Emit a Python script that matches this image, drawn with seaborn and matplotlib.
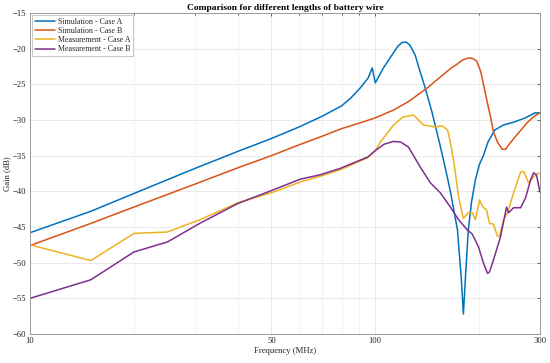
import pandas as pd
import numpy as np
import matplotlib
matplotlib.use("Agg")
import matplotlib.pyplot as plt
import seaborn as sns
from matplotlib.ticker import FixedLocator, FixedFormatter, NullFormatter

# values (frequency in MHz, gain in dB)
sim_a_f = [10, 15, 20, 30, 40, 50, 60, 70, 80, 85, 90.5, 95.4, 98, 100, 105.6, 112.8, 116.5,
           120, 123, 126, 130.5, 135, 139.5, 146, 154, 160, 165, 173, 177.6, 180, 183, 186,
           190, 195, 200, 206, 212, 222, 235, 252, 272, 290, 300]
sim_a_g = [-45.8, -42.8, -40.3, -36.8, -34.4, -32.6, -31.0, -29.5, -28.0, -26.9, -25.5, -24.1,
           -22.7, -24.8, -22.7, -20.6, -19.6, -19.1, -19.1, -19.5, -20.9, -23.3, -25.5, -28.9,
           -33.5, -37.0, -40.0, -45.4, -52.4, -57.2, -51.0, -45.4, -41.5, -38.4, -36.3, -34.9,
           -33.1, -31.4, -30.7, -30.3, -29.7, -29.0, -29.0]

sim_b_f = [10, 15, 20, 30, 40, 50, 60, 70, 80, 90.5, 100, 113, 125, 141.5, 155, 165, 171, 179,
           185, 188.5, 192, 197, 202, 206, 211, 216, 220, 226, 233, 238.5, 246, 260, 275, 290,
           300]
sim_b_g = [-47.6, -44.5, -42.2, -39.0, -36.7, -35.0, -33.5, -32.3, -31.2, -30.4, -29.7, -28.6,
           -27.4, -25.5, -23.9, -22.8, -22.3, -21.6, -21.35, -21.3, -21.4, -21.8, -23.2, -25.1,
           -27.5, -29.7, -31.7, -33.1, -34.1, -34.1, -33.2, -31.8, -30.4, -29.4, -29.0]

meas_a_f = [10, 15, 20, 25, 31, 40, 50, 60.6, 69, 79, 95, 100, 103.4, 113, 120, 129, 138,
            149.5, 156, 162, 165, 168.5, 174.4, 179.9, 186, 191, 195.1, 200.4, 205.9, 210,
            214.2, 220, 225.9, 229, 235.2, 241.6, 251.6, 263.6, 268.9, 278, 287.4, 294.8, 300]
meas_a_g = [-47.5, -49.7, -45.9, -45.7, -44.0, -41.6, -40.2, -38.7, -37.9, -37.0, -35.3, -34.3,
            -33.1, -30.7, -29.6, -29.3, -30.7, -31.0, -30.8, -31.4, -33.1, -35.6, -40.8, -43.8,
            -43.0, -43.0, -44.0, -41.2, -42.3, -42.6, -44.5, -44.6, -46.3, -46.3, -44.0, -43.0,
            -40.2, -37.3, -37.2, -38.8, -38.0, -37.5, -37.5]

meas_b_f = [10, 15, 20, 25, 31, 40, 50, 60.6, 69, 79, 95, 100, 106, 112.8, 118.6, 124.8, 135,
            144.4, 154.3, 165, 174.4, 184.7, 191, 199.1, 205.9, 211.4, 214.2, 220, 230.5, 240,
            243.2, 251.6, 263.6, 272.6, 281.7, 287.4, 293, 300]
meas_b_g = [-55.0, -52.4, -48.5, -47.1, -44.5, -41.7, -39.9, -38.3, -37.7, -36.8, -35.2, -34.3,
            -33.4, -33.0, -33.1, -33.8, -36.6, -38.8, -40.2, -42.2, -44.0, -45.4, -46.0, -47.8,
            -50.1, -51.5, -51.3, -49.6, -46.4, -42.2, -43.0, -42.3, -42.3, -40.9, -38.4, -37.4,
            -37.7, -40.1]

labels = ['Simulation - Case A', 'Simulation - Case B',
          'Measurement - Case A', 'Measurement - Case B']
colors = ['#0072BD', '#D95319', '#EDB120', '#7E2F8E']

frames = []
for lab, f, g in zip(labels, [sim_a_f, sim_b_f, meas_a_f, meas_b_f],
                     [sim_a_g, sim_b_g, meas_a_g, meas_b_g]):
    frames.append(pd.DataFrame({'freq': f, 'gain': g, 'case': lab}))
df = pd.concat(frames, ignore_index=True)

sns.set_theme(style="whitegrid")
plt.rcParams['font.family'] = ['Liberation Serif', 'DejaVu Serif']

fig = plt.figure(figsize=(5.5, 3.63), dpi=100)
ax = fig.add_axes([30 / 550, 1 - 334 / 363, 510 / 550, 321 / 363])

sns.lineplot(data=df, x='freq', y='gain', hue='case', hue_order=labels,
             palette=colors, estimator=None, sort=False, linewidth=1.1, ax=ax)

ax.set_xscale('log')
ax.set_xlim(10, 300)
ax.set_ylim(-60, -15)
ax.xaxis.set_major_locator(FixedLocator([10, 50, 100, 300]))
ax.xaxis.set_major_formatter(FixedFormatter(['10', '50', '100', '300']))
ax.xaxis.set_minor_locator(FixedLocator([20, 30, 40, 60, 70, 80, 90, 200]))
ax.xaxis.set_minor_formatter(NullFormatter())
ax.set_yticks(np.arange(-60, -14, 5))

ax.grid(True, which='major', color='#e6e6e6', linewidth=0.6)
ax.grid(True, which='minor', axis='x', color='#efefef', linewidth=0.5)
ax.set_facecolor('white')
for s in ax.spines.values():
    s.set_color('#9a9a9a')
    s.set_linewidth(0.7)

ax.tick_params(axis='both', which='both', direction='in', top=True, right=True,
               labelsize=6.2, colors='#262626', length=2.5, width=0.5, pad=2.5)
ax.tick_params(axis='both', which='minor', length=1.5)

ax.set_xlabel('Frequency (MHz)', fontsize=6.2, labelpad=1, color='#262626')
ax.set_ylabel('Gain (dB)', fontsize=6.2, labelpad=1, color='#262626')
ax.set_title('Comparison for different lengths of battery wire', fontsize=6.8,
             fontweight='bold', pad=2, color='black')

leg = ax.legend(loc='upper left', fontsize=5.7, frameon=True, fancybox=False,
                edgecolor='#b0b0b0', framealpha=1, borderpad=0.3, labelspacing=0.15,
                handlelength=2.6, handletextpad=0.3, borderaxespad=0.3)
leg.get_frame().set_linewidth(0.5)

fig.savefig('out.png', dpi=100)
